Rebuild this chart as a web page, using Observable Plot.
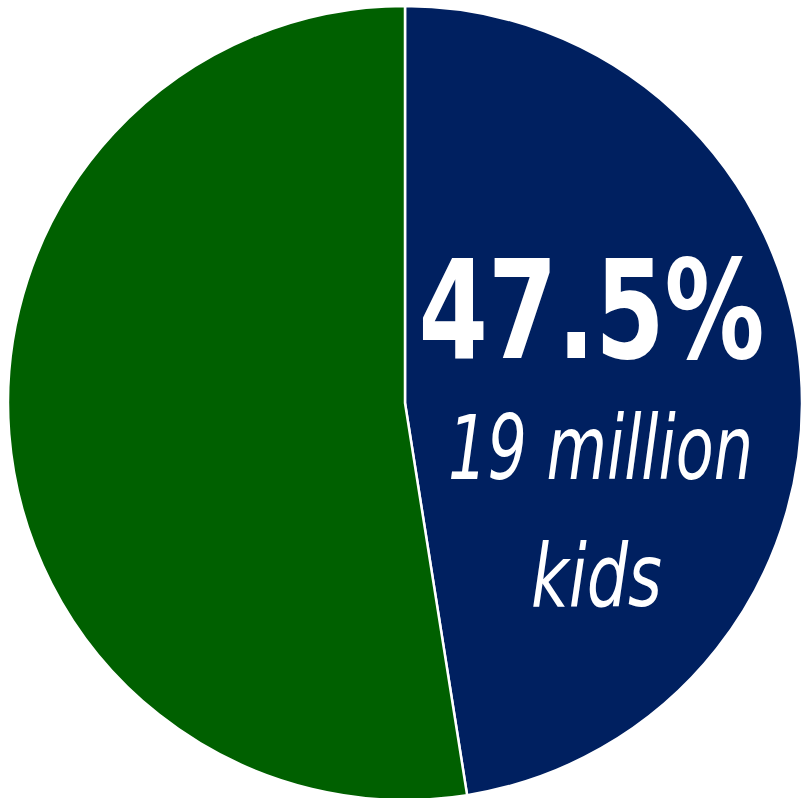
<!DOCTYPE html>
<html>
<head>
<meta charset="utf-8">
<script src="https://cdn.jsdelivr.net/npm/d3@7"></script>
<script src="https://cdn.jsdelivr.net/npm/@observablehq/plot@0.6"></script>
<style>
  html, body { margin: 0; padding: 0; background: #ffffff; }
  #chart svg { display: block; }
</style>
</head>
<body>
<div id="chart"></div>
<script>
const categories = ["Kids (19 million)", "Other"];
const shares = [47.5, 52.5];
const colors = ["#002060", "#006000"];
const pctLabel = "47.5%";
const subLabels = ["19 million", "kids"];

const data = categories.map((c, i) => ({category: c, value: shares[i]}));
const pieArcs = d3.pie().sort(null).value(d => d.value)(data);
const rows = pieArcs.map(a => ({...a.data, startAngle: a.startAngle, endAngle: a.endAngle, mid: (a.startAngle + a.endAngle) / 2}));

const fontFam = "'DejaVu Sans Condensed', 'DejaVu Sans', sans-serif";
const labelR = 0.47;
const lx = d => labelR * Math.sin(d.mid);
const ly = d => labelR * Math.cos(d.mid);

const plot = Plot.plot({
  width: 801,
  height: 798,
  margin: 0,
  x: {domain: [-1, 1], range: [8, 802], axis: null},
  y: {domain: [1, -1], range: [6, 800], axis: null},
  color: {domain: categories, range: colors},
  marks: [
    Plot.dot(rows, {
      x: () => 0, y: () => 0, fill: "category",
      render(index, scales, values, dimensions, context) {
        const cx = scales.x(0), cy = scales.y(0);
        const r = scales.x(1) - cx;
        const g = d3.create("svg:g").attr("transform", `translate(${cx},${cy})`);
        const arc = d3.arc().innerRadius(0).outerRadius(r);
        for (const i of index) {
          g.append("path")
            .attr("d", arc({startAngle: rows[i].startAngle, endAngle: rows[i].endAngle}))
            .attr("fill", values.fill[i])
            .attr("stroke", "#ffffff")
            .attr("stroke-width", 2.5)
            .attr("stroke-linejoin", "round");
        }
        return g.node();
      }
    }),
    Plot.text([rows[0]], {
      x: lx, y: ly, text: () => pctLabel,
      fill: "#ffffff", fontSize: 137, fontWeight: "bold", fontFamily: fontFam,
      textAnchor: "middle", lineAnchor: "bottom", dy: -31, className: "lbl-pct"
    }),
    Plot.text([rows[0]], {
      x: lx, y: ly, text: () => subLabels[0],
      fill: "#ffffff", fontSize: 89, fontStyle: "italic", fontFamily: fontFam,
      textAnchor: "middle", lineAnchor: "bottom", dx: 9, dy: 90, className: "lbl-sub1"
    }),
    Plot.text([rows[0]], {
      x: lx, y: ly, text: () => subLabels[1],
      fill: "#ffffff", fontSize: 88, fontStyle: "italic", fontFamily: fontFam,
      textAnchor: "middle", lineAnchor: "bottom", dx: 5, dy: 217, className: "lbl-sub2"
    })
  ]
});
const fit = {"lbl-pct": 346, "lbl-sub1": 305, "lbl-sub2": 131};
for (const [cls, len] of Object.entries(fit)) {
  plot.querySelectorAll(`.${cls} text`).forEach(t => {
    t.setAttribute("textLength", len);
    t.setAttribute("lengthAdjust", "spacingAndGlyphs");
  });
}
document.getElementById("chart").appendChild(plot);
</script>
</body>
</html>
